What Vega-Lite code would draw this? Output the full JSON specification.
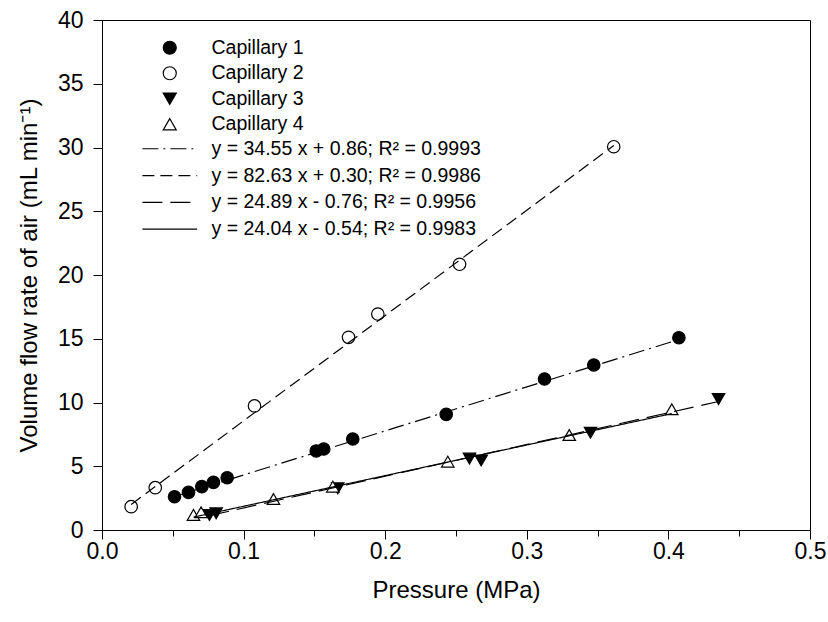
{
  "$schema": "https://vega.github.io/schema/vega-lite/v6.json",
  "width": 708,
  "height": 510,
  "autosize": {"type": "none"},
  "padding": {"left": 102, "top": 20, "right": 18, "bottom": 92},
  "background": "white",
  "config": {
    "view": {"stroke": "black", "strokeWidth": 1},
    "font": "Liberation Sans",
    "axis": {
      "domainColor": "black", "tickColor": "black", "labelColor": "black", "titleColor": "black",
      "grid": false, "labelFont": "Liberation Sans", "titleFont": "Liberation Sans",
      "labelFontSize": 23, "titleFontSize": 24, "titleFontWeight": "normal",
      "tickSize": 9, "domainWidth": 1, "tickWidth": 1
    }
  },
  "datasets": {
    "points": [
      {"series": "Capillary 1", "p": 0.0512, "q": 2.61},
      {"series": "Capillary 1", "p": 0.0611, "q": 2.95},
      {"series": "Capillary 1", "p": 0.0705, "q": 3.40},
      {"series": "Capillary 1", "p": 0.0787, "q": 3.74},
      {"series": "Capillary 1", "p": 0.0884, "q": 4.10},
      {"series": "Capillary 1", "p": 0.1513, "q": 6.20},
      {"series": "Capillary 1", "p": 0.1566, "q": 6.35},
      {"series": "Capillary 1", "p": 0.1771, "q": 7.14},
      {"series": "Capillary 1", "p": 0.2431, "q": 9.07},
      {"series": "Capillary 1", "p": 0.3125, "q": 11.84},
      {"series": "Capillary 1", "p": 0.3473, "q": 12.94},
      {"series": "Capillary 1", "p": 0.4074, "q": 15.08},
      {"series": "Capillary 2", "p": 0.0206, "q": 1.83},
      {"series": "Capillary 2", "p": 0.0376, "q": 3.32},
      {"series": "Capillary 2", "p": 0.1077, "q": 9.73},
      {"series": "Capillary 2", "p": 0.1741, "q": 15.11},
      {"series": "Capillary 2", "p": 0.1948, "q": 16.94},
      {"series": "Capillary 2", "p": 0.2525, "q": 20.84},
      {"series": "Capillary 2", "p": 0.3614, "q": 30.06},
      {"series": "Capillary 3", "p": 0.0759, "q": 1.18},
      {"series": "Capillary 3", "p": 0.0806, "q": 1.31},
      {"series": "Capillary 3", "p": 0.1665, "q": 3.27},
      {"series": "Capillary 3", "p": 0.2595, "q": 5.60},
      {"series": "Capillary 3", "p": 0.2678, "q": 5.45},
      {"series": "Capillary 3", "p": 0.3450, "q": 7.63},
      {"series": "Capillary 3", "p": 0.4354, "q": 10.27},
      {"series": "Capillary 4", "p": 0.0646, "q": 1.18},
      {"series": "Capillary 4", "p": 0.0700, "q": 1.39},
      {"series": "Capillary 4", "p": 0.1211, "q": 2.43},
      {"series": "Capillary 4", "p": 0.1630, "q": 3.40},
      {"series": "Capillary 4", "p": 0.2442, "q": 5.36},
      {"series": "Capillary 4", "p": 0.3300, "q": 7.45},
      {"series": "Capillary 4", "p": 0.4024, "q": 9.47}
    ],
    "lines": [
      {"eq": "y = 34.55 x + 0.86; R² = 0.9993", "p": 0.0512, "q": 2.63},
      {"eq": "y = 34.55 x + 0.86; R² = 0.9993", "p": 0.4074, "q": 14.94},
      {"eq": "y = 82.63 x + 0.30; R² = 0.9986", "p": 0.0206, "q": 2.00},
      {"eq": "y = 82.63 x + 0.30; R² = 0.9986", "p": 0.3614, "q": 30.16},
      {"eq": "y = 24.89 x - 0.76; R² = 0.9956", "p": 0.0759, "q": 1.13},
      {"eq": "y = 24.89 x - 0.76; R² = 0.9956", "p": 0.4354, "q": 10.08},
      {"eq": "y = 24.04 x - 0.54; R² = 0.9983", "p": 0.0646, "q": 1.01},
      {"eq": "y = 24.04 x - 0.54; R² = 0.9983", "p": 0.4024, "q": 9.13}
    ]
  },
  "layer": [
    {
      "data": {"name": "points"},
      "mark": {"type": "point", "filled": true, "stroke": "black", "strokeWidth": 1.2, "size": 155, "opacity": 1},
      "encoding": {
        "x": {
          "field": "p", "type": "quantitative",
          "scale": {"domain": [0, 0.5], "nice": false},
          "axis": {
            "values": [0, 0.05, 0.1, 0.15, 0.2, 0.25, 0.3, 0.35, 0.4, 0.45, 0.5],
            "labelExpr": "round(datum.value*20) % 2 == 0 ? format(datum.value, '.1f') : ''",
            "tickSize": {"condition": {"test": "round(datum.value*20) % 2 == 0", "value": 9}, "value": 6},
            "labelFlush": false, "labelPadding": 1, "titlePadding": 15,
            "title": "Pressure (MPa)"
          }
        },
        "y": {
          "field": "q", "type": "quantitative",
          "scale": {"domain": [0, 40], "nice": false},
          "axis": {
            "values": [0, 5, 10, 15, 20, 25, 30, 35, 40],
            "labelPadding": 10, "titlePadding": 16, "labelFlush": false,
            "title": "Volume flow rate of air (mL min⁻¹)"
          }
        },
        "shape": {
          "field": "series", "type": "nominal",
          "scale": {"domain": ["Capillary 1", "Capillary 2", "Capillary 3", "Capillary 4"], "range": ["circle", "circle", "triangle-down", "triangle-up"]},
          "legend": {
            "title": null, "orient": "none", "legendX": 58, "legendY": 18, "padding": 0,
            "symbolSize": 170, "symbolStrokeWidth": 1.2,
            "labelFontSize": 19.5, "labelFont": "Liberation Sans", "labelColor": "black", "labelOffset": 32, "rowPadding": 4.5, "labelLimit": 0,
            "encode": {"symbols": {"stroke": {"value": "black"}, "strokeWidth": {"value": 1.2}}}
          }
        },
        "fill": {
          "field": "series", "type": "nominal",
          "scale": {"domain": ["Capillary 1", "Capillary 2", "Capillary 3", "Capillary 4"], "range": ["black", "white", "black", "white"]},
          "legend": {
            "title": null, "orient": "none", "legendX": 58, "legendY": 18, "padding": 0,
            "symbolSize": 170, "symbolStrokeWidth": 1.2,
            "labelFontSize": 19.5, "labelFont": "Liberation Sans", "labelColor": "black", "labelOffset": 32, "rowPadding": 4.5, "labelLimit": 0,
            "encode": {"symbols": {"stroke": {"value": "black"}, "strokeWidth": {"value": 1.2}}}
          }
        }
      }
    },
    {
      "data": {"name": "lines"},
      "mark": {"type": "line", "color": "black", "strokeWidth": 1.2},
      "encoding": {
        "x": {"field": "p", "type": "quantitative"},
        "y": {"field": "q", "type": "quantitative"},
        "strokeDash": {
          "field": "eq", "type": "nominal",
          "scale": {
            "domain": ["y = 34.55 x + 0.86; R² = 0.9993", "y = 82.63 x + 0.30; R² = 0.9986", "y = 24.89 x - 0.76; R² = 0.9956", "y = 24.04 x - 0.54; R² = 0.9983"],
            "range": [[16, 5, 2, 5], [12, 6], [20, 8], [1, 0]]
          },
          "legend": {
            "title": null, "orient": "none", "legendX": 58, "legendY": 119, "padding": 0,
            "symbolType": "M-4.2,0H4.2", "symbolSize": 170, "symbolStrokeWidth": 1.2,
            "labelFontSize": 19.5, "labelFont": "Liberation Sans", "labelColor": "black", "labelOffset": 32, "rowPadding": 5.8, "labelLimit": 0
          }
        }
      }
    }
  ]
}
